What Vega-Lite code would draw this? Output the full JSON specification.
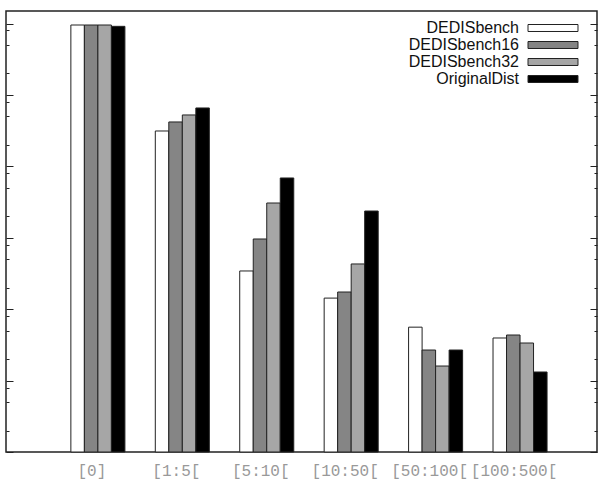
{
  "$schema": "https://vega.github.io/schema/vega-lite/v6.json",
  "width": 591,
  "height": 441,
  "autosize": "none",
  "padding": {"left": 6, "top": 11, "right": 3, "bottom": 34},
  "background": "white",
  "config": {
    "view": {"stroke": "#222", "strokeWidth": 1.5},
    "font": "Liberation Sans"
  },
  "data": {
    "values": [
      {"bin": "[0]", "series": "DEDISbench", "count": 955000},
      {"bin": "[0]", "series": "DEDISbench16", "count": 955000},
      {"bin": "[0]", "series": "DEDISbench32", "count": 955000},
      {"bin": "[0]", "series": "OriginalDist", "count": 915000},
      {"bin": "[1:5[", "series": "DEDISbench", "count": 31300},
      {"bin": "[1:5[", "series": "DEDISbench16", "count": 41900},
      {"bin": "[1:5[", "series": "DEDISbench32", "count": 52500},
      {"bin": "[1:5[", "series": "OriginalDist", "count": 65800},
      {"bin": "[5:10[", "series": "DEDISbench", "count": 343},
      {"bin": "[5:10[", "series": "DEDISbench16", "count": 962},
      {"bin": "[5:10[", "series": "DEDISbench32", "count": 3070},
      {"bin": "[5:10[", "series": "OriginalDist", "count": 6880},
      {"bin": "[10:50[", "series": "DEDISbench", "count": 143},
      {"bin": "[10:50[", "series": "DEDISbench16", "count": 174},
      {"bin": "[10:50[", "series": "DEDISbench32", "count": 430},
      {"bin": "[10:50[", "series": "OriginalDist", "count": 2370},
      {"bin": "[50:100[", "series": "DEDISbench", "count": 56},
      {"bin": "[50:100[", "series": "DEDISbench16", "count": 26.8},
      {"bin": "[50:100[", "series": "DEDISbench32", "count": 16},
      {"bin": "[50:100[", "series": "OriginalDist", "count": 26.8},
      {"bin": "[100:500[", "series": "DEDISbench", "count": 39.5},
      {"bin": "[100:500[", "series": "DEDISbench16", "count": 43.5},
      {"bin": "[100:500[", "series": "DEDISbench32", "count": 33.6},
      {"bin": "[100:500[", "series": "OriginalDist", "count": 13.2}
    ]
  },
  "encoding": {
    "x": {
      "field": "bin",
      "type": "nominal",
      "sort": ["[0]", "[1:5[", "[5:10[", "[10:50[", "[50:100[", "[100:500["],
      "scale": {"paddingInner": 0.36, "paddingOuter": 0.68, "align": 0.565},
      "axis": {
        "title": null,
        "domain": false,
        "ticks": false,
        "labelAngle": 0,
        "labelFont": "Liberation Mono",
        "labelFontSize": 16,
        "labelColor": "#999",
        "labelPadding": 10,
        "labelOffset": -6
      }
    },
    "xOffset": {
      "field": "series",
      "type": "nominal",
      "sort": ["DEDISbench", "DEDISbench16", "DEDISbench32", "OriginalDist"]
    },
    "y": {
      "field": "count",
      "type": "quantitative",
      "scale": {"type": "log", "domain": [1, 1500000], "nice": false}
    },
    "y2": {"datum": 1}
  },
  "layer": [
    {
      "mark": {"type": "bar", "stroke": "#222", "strokeWidth": 1},
      "encoding": {
        "y": {
          "field": "count",
          "type": "quantitative",
          "axis": {
            "orient": "left",
            "title": null,
            "labels": false,
            "domain": false,
            "grid": false,
            "values": [1, 2, 5, 8, 10, 20, 50, 80, 100, 200, 500, 800, 1000, 2000, 5000, 8000, 10000, 20000, 50000, 80000, 100000, 200000, 500000, 800000, 1000000],
            "tickColor": "#222",
            "tickWidth": 1,
            "tickSize": {"condition": {"test": "indexof([1,10,100,1000,10000,100000,1000000], datum.value) >= 0", "value": -7}, "value": -3}
          }
        },
        "fill": {
          "field": "series",
          "type": "nominal",
          "scale": {
            "domain": ["DEDISbench", "DEDISbench16", "DEDISbench32", "OriginalDist"],
            "range": ["#ffffff", "#858585", "#a6a6a6", "#000000"]
          },
          "legend": {
            "title": null,
            "orient": "none",
            "legendX": 538,
            "legendY": 8,
            "padding": 0,
            "symbolType": "M-2.94,-0.41H2.94V0.41H-2.94Z",
            "symbolSize": 289,
            "symbolStrokeColor": "#222",
            "symbolStrokeWidth": 1,
            "labelFont": "Liberation Sans",
            "labelFontSize": 16,
            "labelColor": "#111",
            "labelAlign": "right",
            "labelOffset": -43,
            "rowPadding": 0,
            "labelLimit": 300
          }
        }
      }
    },
    {
      "mark": {"type": "bar", "opacity": 0},
      "encoding": {
        "y": {
          "field": "count",
          "type": "quantitative",
          "axis": {
            "orient": "right",
            "title": null,
            "labels": false,
            "domain": false,
            "grid": false,
            "values": [1, 2, 5, 8, 10, 20, 50, 80, 100, 200, 500, 800, 1000, 2000, 5000, 8000, 10000, 20000, 50000, 80000, 100000, 200000, 500000, 800000, 1000000],
            "tickColor": "#222",
            "tickWidth": 1,
            "tickSize": {"condition": {"test": "indexof([1,10,100,1000,10000,100000,1000000], datum.value) >= 0", "value": -7}, "value": -3}
          }
        }
      }
    }
  ],
  "resolve": {"axis": {"y": "independent"}}
}
